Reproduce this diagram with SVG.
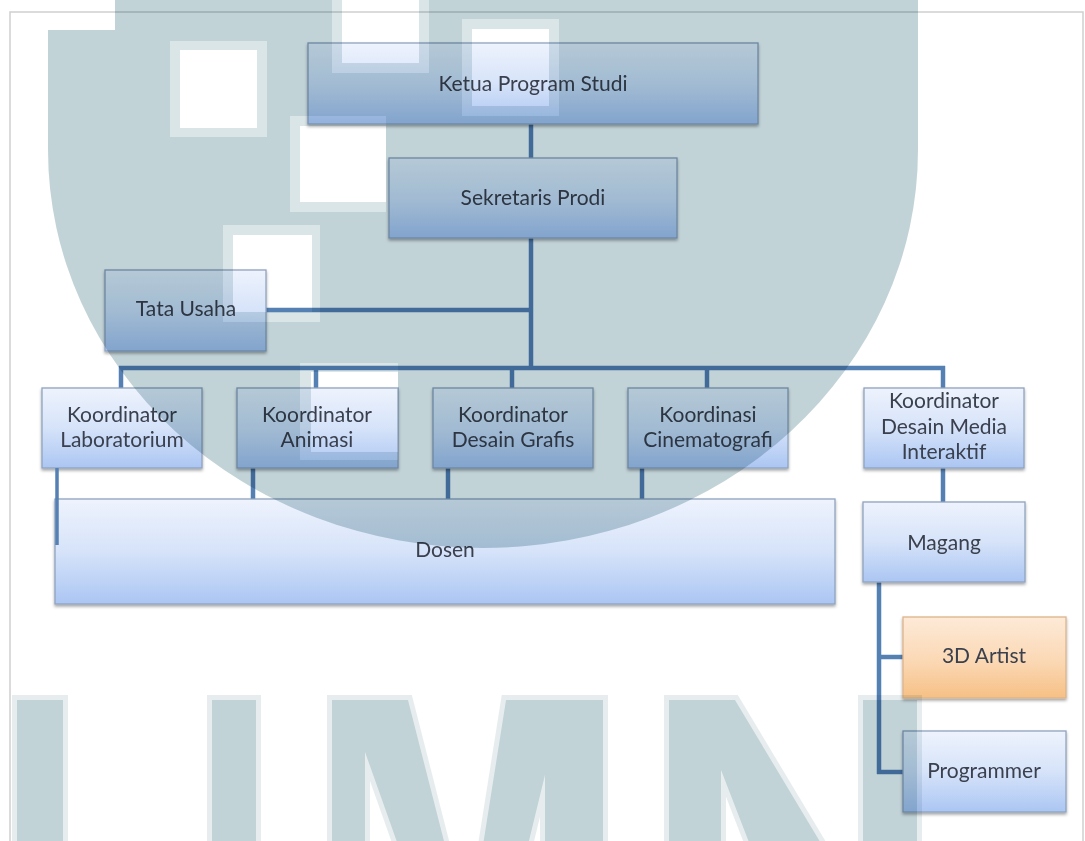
<svg xmlns="http://www.w3.org/2000/svg" width="1085" height="841" viewBox="0 0 1085 841">
<style>
.box{fill:url(#gBlue);stroke:#8fa3bf;stroke-width:1.3;filter:url(#sh)}
.org{fill:url(#gOrange);stroke:#dcb48c;stroke-width:1.3;filter:url(#sh)}
.t{font-family:Lato,"Liberation Sans",sans-serif;font-size:21px;fill:#3a404d;text-anchor:middle}
.c{stroke:#5580b3;stroke-width:4.5;fill:none;stroke-linecap:butt}
.wm{mix-blend-mode:multiply}
</style>
<defs>
<linearGradient id="gBlue" x1="0" y1="0" x2="0" y2="1">
<stop offset="0" stop-color="#eef3fd"/>
<stop offset="0.5" stop-color="#d6e3f9"/>
<stop offset="1" stop-color="#abc6f3"/>
</linearGradient>
<linearGradient id="gOrange" x1="0" y1="0" x2="0" y2="1">
<stop offset="0" stop-color="#fdead8"/>
<stop offset="0.55" stop-color="#fbd8b4"/>
<stop offset="1" stop-color="#f6c085"/>
</linearGradient>
<filter id="sh" x="-5%" y="-10%" width="110%" height="130%">
<feDropShadow dx="0" dy="2" stdDeviation="1.5" flood-color="#000" flood-opacity="0.35"/>
</filter>
<mask id="wmMask" maskUnits="userSpaceOnUse" x="0" y="0" width="1085" height="841">
<path d="M115,0 L918,0 L918,150 A435,398 0 0 1 48,150 L48,30 L115,30 Z" fill="#fff"/>
<g fill="#999">
<rect x="332" y="0" width="97" height="73"/>
<rect x="462" y="19" width="97" height="97"/>
<rect x="170" y="41" width="97" height="96"/>
<rect x="290" y="116" width="96" height="96"/>
<rect x="223" y="225" width="97" height="97"/>
<rect x="300" y="363" width="98" height="97"/>
</g>
<g fill="#000">
<rect x="342" y="0" width="77" height="63"/>
<rect x="472" y="29" width="77" height="77"/>
<rect x="180" y="50" width="77" height="78"/>
<rect x="300" y="126" width="86" height="76"/>
<rect x="233" y="235" width="79" height="77"/>
<rect x="311" y="372" width="87" height="80"/>
</g>
<g stroke="#666" stroke-width="10" fill="#fff">
<rect x="17" y="700" width="46" height="160"/>
<rect x="212" y="700" width="44" height="160"/>
<polygon points="332,700 408,700 445,845 398,845 365,752 365,845 332,845"/>
<polygon points="506,700 603,700 603,845 545,845 545,775 528,845 483,845"/>
<polygon points="669,700 735,700 822,845 750,845 721,770 721,845 669,845"/>
<rect x="863" y="700" width="54" height="160"/>
</g>
<g fill="#fff">
<rect x="17" y="700" width="46" height="160"/>
<rect x="212" y="700" width="44" height="160"/>
<polygon points="332,700 408,700 445,845 398,845 365,752 365,845 332,845"/>
<polygon points="506,700 603,700 603,845 545,845 545,775 528,845 483,845"/>
<polygon points="669,700 735,700 822,845 750,845 721,770 721,845 669,845"/>
<rect x="863" y="700" width="54" height="160"/>
</g>
</mask>
</defs>
<rect x="0" y="0" width="1085" height="841" fill="#fff"/>
<rect x="10" y="12" width="1073" height="840" fill="none" stroke="#cfcfcf" stroke-width="1.5"/>

<g id="connectors">
<line class="c" x1="531" y1="124" x2="531" y2="158"/>
<line class="c" x1="531" y1="238" x2="531" y2="370"/>
<line class="c" x1="266" y1="310" x2="531" y2="310"/>
<line class="c" x1="119" y1="368" x2="945" y2="368"/>
<line class="c" x1="121" y1="366" x2="121" y2="388"/>
<line class="c" x1="316" y1="366" x2="316" y2="388"/>
<line class="c" x1="512" y1="366" x2="512" y2="388"/>
<line class="c" x1="707" y1="366" x2="707" y2="388"/>
<line class="c" x1="943" y1="366" x2="943" y2="388"/>
<line class="c" x1="253" y1="468" x2="253" y2="499"/>
<line class="c" x1="448" y1="468" x2="448" y2="499"/>
<line class="c" x1="642" y1="468" x2="642" y2="499"/>
<line class="c" x1="943" y1="468" x2="943" y2="502"/>
<line class="c" x1="879" y1="582" x2="879" y2="774"/>
<line class="c" x1="877" y1="657" x2="903" y2="657"/>
<line class="c" x1="877" y1="772" x2="903" y2="772"/>
</g>

<g id="ketua"><rect class="box" x="308" y="43" width="450" height="81"/><text class="t" x="533" y="91">Ketua Program Studi</text></g>
<g id="sekretaris"><rect class="box" x="389" y="158" width="288" height="80"/><text class="t" x="533" y="205">Sekretaris Prodi</text></g>
<g id="tata-usaha"><rect class="box" x="105" y="270" width="161" height="81"/><text class="t" x="186" y="316">Tata Usaha</text></g>
<g id="koord-lab"><rect class="box" x="42" y="388" width="160" height="80"/><text class="t" x="122" y="422">Koordinator</text><text class="t" x="122" y="447">Laboratorium</text></g>
<g id="koord-animasi"><rect class="box" x="237" y="388" width="161" height="80"/><text class="t" x="317" y="422">Koordinator</text><text class="t" x="317" y="447">Animasi</text></g>
<g id="koord-desain-grafis"><rect class="box" x="433" y="388" width="160" height="80"/><text class="t" x="513" y="422">Koordinator</text><text class="t" x="513" y="447">Desain Grafis</text></g>
<g id="koord-cinematografi"><rect class="box" x="628" y="388" width="160" height="80"/><text class="t" x="708" y="422">Koordinasi</text><text class="t" x="708" y="447">Cinematografi</text></g>
<g id="koord-dmi"><rect class="box" x="864" y="388" width="160" height="80"/><text class="t" x="944" y="408">Koordinator</text><text class="t" x="944" y="434">Desain Media</text><text class="t" x="944" y="459">Interaktif</text></g>
<g id="dosen"><rect class="box" x="55" y="499" width="780" height="105"/><text class="t" x="445" y="557">Dosen</text></g>
<line class="c" x1="57" y1="468" x2="57" y2="545" style="stroke-width:3.5"/>
<g id="magang"><rect class="box" x="863" y="502" width="162" height="80"/><text class="t" x="944" y="550">Magang</text></g>
<g id="artist-3d"><rect class="org" x="903" y="617" width="163" height="81"/><text class="t" x="984" y="663">3D Artist</text></g>
<g id="programmer"><rect class="box" x="903" y="731" width="163" height="81"/><text class="t" x="984" y="778">Programmer</text></g>

<g id="watermark" class="wm">
<rect x="0" y="0" width="1085" height="841" fill="#c2d3d8" mask="url(#wmMask)"/>
</g>
</svg>
